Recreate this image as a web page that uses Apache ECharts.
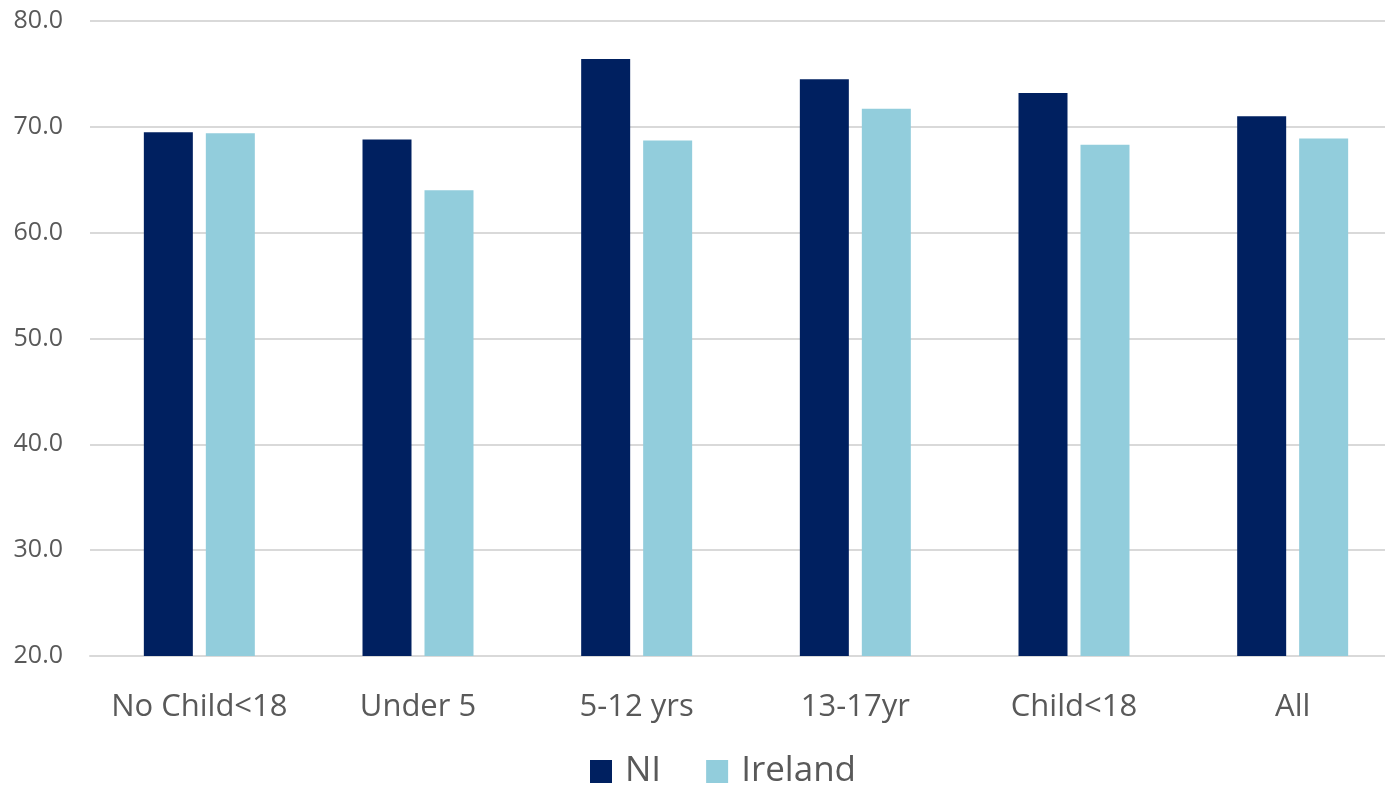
<!DOCTYPE html>
<html>
<head>
<meta charset="utf-8">
<script src="https://cdn.jsdelivr.net/npm/echarts@6/dist/echarts.min.js"></script>
<style>
  html, body { margin: 0; padding: 0; background: #ffffff; }
  #chart { width: 1385px; height: 787px; }
</style>
</head>
<body>
<div id="chart"></div>
<script>
// Household groups and the two regions compared
const categories = ['No Child<18', 'Under 5', '5-12 yrs', '13-17yr', 'Child<18', 'All'];
const niValues = [69.5, 68.8, 76.4, 74.5, 73.2, 71.0];
const irelandValues = [69.4, 64.0, 68.7, 71.7, 68.3, 68.9];
const seriesNames = ['NI', 'Ireland'];
const yMin = 20;
const yMax = 80;
const yStep = 10;

const textGrey = '#595959';
const gridGrey = '#D9D9D9';
const font = '"Open Sans", "Noto Sans", sans-serif';

const chart = echarts.init(document.getElementById('chart'));
chart.setOption({
  animation: false,
  backgroundColor: '#ffffff',
  // plot area runs slightly past the right edge of the canvas
  grid: { left: 90, top: 21, width: 1312, bottom: 131, containLabel: false, outerBoundsMode: 'none' },
  legend: {
    data: seriesNames,
    left: 585,
    top: 749,
    itemWidth: 22,
    itemHeight: 23,
    itemGap: 45,
    icon: 'rect',
    textStyle: { color: textGrey, fontSize: 35, fontFamily: font, padding: [0, 0, 0, 8] }
  },
  xAxis: {
    type: 'category',
    data: categories,
    axisLine: { show: true, lineStyle: { color: gridGrey, width: 2 } },
    axisTick: { show: false },
    axisLabel: { color: textGrey, fontSize: 31, fontFamily: font, margin: 36, interval: 0 }
  },
  yAxis: {
    type: 'value',
    min: yMin,
    max: yMax,
    interval: yStep,
    axisLine: { show: false },
    axisTick: { show: false },
    splitLine: { lineStyle: { color: gridGrey, width: 2 } },
    axisLabel: {
      color: textGrey, fontSize: 25, fontFamily: font, margin: 27,
      formatter: v => v.toFixed(1)
    }
  },
  series: [
    {
      name: seriesNames[0], type: 'bar', data: niValues,
      barWidth: 49, barGap: '26.5%',
      itemStyle: { color: '#002060' }
    },
    {
      name: seriesNames[1], type: 'bar', data: irelandValues,
      barWidth: 49, barGap: '26.5%',
      itemStyle: { color: '#92CDDC' }
    }
  ]
});
</script>
</body>
</html>
